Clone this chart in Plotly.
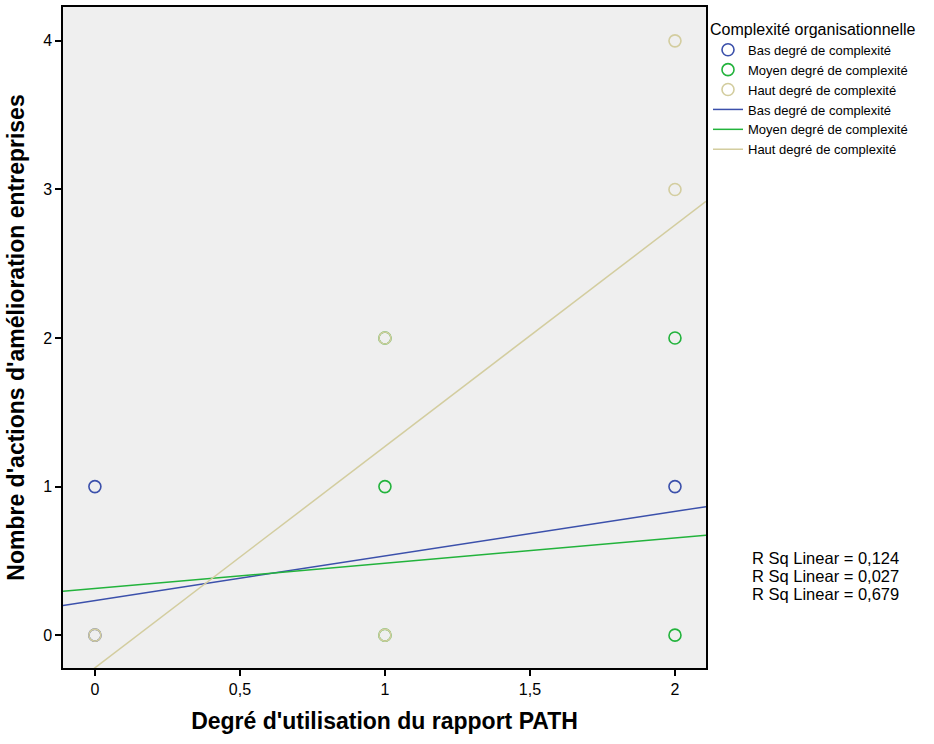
import plotly.graph_objects as go

# Data
groups = ["Bas degré de complexité", "Moyen degré de complexité", "Haut degré de complexité"]
colors = ["#3b50ab", "#22b33c", "#d3cd9f"]
bas_x = [0, 2, 0]
bas_y = [1, 1, 0]
moyen_x = [1, 2, 2, 1, 1]
moyen_y = [1, 2, 0, 2, 0]
haut_x = [0, 1, 1, 2, 2]
haut_y = [0, 2, 0, 4, 3]
fit_intercepts = [0.233, 0.314, -0.22]
fit_slopes = [0.30, 0.17, 1.49]
r2_labels = ["R Sq Linear = 0,124", "R Sq Linear = 0,027", "R Sq Linear = 0,679"]
x_ticks = [0, 0.5, 1, 1.5, 2]
x_ticklabels = ["0", "0,5", "1", "1,5", "2"]
y_ticks = [0, 1, 2, 3, 4]

x_range = [-0.11, 2.107]
y_range = [-0.221, 4.228]

font_main = "Liberation Sans Narrow, Liberation Sans, Arial, sans-serif"
font_leg = "Liberation Sans, Arial, sans-serif"

W, H = 934, 744
L, R, T, B = 63, 228, 5, 76
pw, ph = W - L - R, H - T - B

fig = go.Figure()
pts = [(bas_x, bas_y), (moyen_x, moyen_y), (haut_x, haut_y)]
for (xs, ys), name, c in zip(pts, groups, colors):
    fig.add_trace(go.Scatter(
        x=xs, y=ys, mode="markers", name=name,
        marker=dict(symbol="circle-open", size=12, color=c, line=dict(width=1.6, color=c)),
    ))
for name, c, b, m in zip(groups, colors, fit_intercepts, fit_slopes):
    fig.add_trace(go.Scatter(
        x=x_range, y=[b + m * x_range[0], b + m * x_range[1]], mode="lines", name=name,
        line=dict(color=c, width=1.5),
    ))

for i, t in enumerate(r2_labels):
    px, py = 825, 558 + i * 18
    fig.add_annotation(
        x=(px - L) / pw, y=1 - (py - T) / ph, xref="paper", yref="paper", text=t, showarrow=False,
        font=dict(size=16.5, family=font_leg, color="black"), xanchor="center", yanchor="middle",
    )

fig.update_layout(
    width=W, height=H,
    margin=dict(l=L, r=R, t=T, b=B),
    paper_bgcolor="white", plot_bgcolor="#efefef",
    showlegend=True,
    legend=dict(
        x=(708 - L) / pw, y=1 - (12 - T) / ph, xanchor="left", yanchor="top",
        title=dict(text="Complexité organisationnelle", font=dict(size=16, family=font_leg, color="black")),
        font=dict(size=13, family=font_leg, color="black"),
        tracegroupgap=0, itemwidth=30, bgcolor="rgba(0,0,0,0)",
    ),
    xaxis=dict(
        range=x_range, tickvals=x_ticks, ticktext=x_ticklabels,
        showgrid=False, zeroline=False, showline=True, linecolor="black", linewidth=1.5, mirror=True,
        ticks="outside", ticklen=6, tickcolor="black", tickwidth=1.5,
        tickfont=dict(size=16, family=font_main, color="black"),
        title=dict(text="<b>Degré d'utilisation du rapport PATH</b>", font=dict(size=23, family=font_main, color="black"), standoff=16),
    ),
    yaxis=dict(
        range=y_range, tickvals=y_ticks,
        showgrid=False, zeroline=False, showline=True, linecolor="black", linewidth=1.5, mirror=True,
        ticks="outside", ticklen=6, tickcolor="black", tickwidth=1.5,
        tickfont=dict(size=16, family=font_main, color="black"),
        title=dict(text="<b>Nombre d'actions d'amélioration entreprises</b>", font=dict(size=23, family=font_main, color="black"), standoff=12),
    ),
)

fig.write_html("out.html")
